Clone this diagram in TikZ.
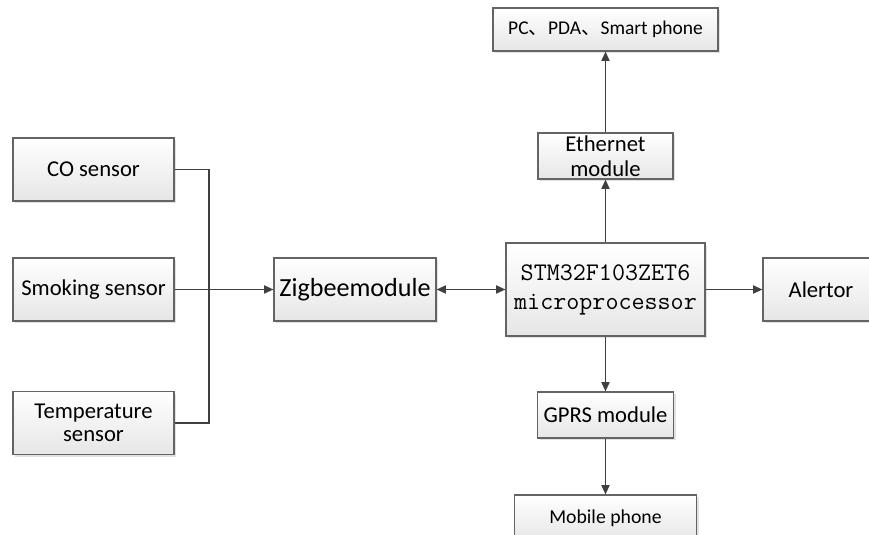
\documentclass[tikz,border=0pt]{standalone}
\usepackage{fontspec}
\setmainfont{Carlito}
\newfontfamily\cjk{Noto Sans CJK SC}
\usetikzlibrary{arrows.meta,shadows}
\definecolor{boxborder}{RGB}{100,100,100}
\definecolor{boxbot}{RGB}{230,230,230}
\definecolor{linecol}{RGB}{64,64,64}
\tikzset{
  blk/.style={draw=boxborder, line width=0.8pt, top color=white, bottom color=boxbot,
    drop shadow={shadow xshift=1.6pt, shadow yshift=-1.6pt, fill=black!22},
    inner sep=0pt, align=center, font=\fontsize{17pt}{19pt}\selectfont},
  conn/.style={draw=linecol, line width=1.3pt},
  arr/.style={conn, -{Triangle[length=7pt,width=6pt]}},
  darr/.style={conn, {Triangle[length=7pt,width=6pt]}-{Triangle[length=7pt,width=6pt]}}
}
\begin{document}
\begin{tikzpicture}[x=0.75pt,y=-0.75pt]
\useasboundingbox (0,0) rectangle (869,535);
\clip (0,0) rectangle (869,535);
\fill[white] (0,0) rectangle (869,535);
% right column
\node[blk, minimum width=168.75pt, minimum height=32.25pt, font=\fontsize{14.6pt}{16pt}\selectfont] (pc) at (605.5,29.5) {PC{\cjk 、}PDA{\cjk 、}Smart phone};
\node[blk, minimum width=101.25pt, minimum height=34.5pt, font=\fontsize{17pt}{18.75pt}\selectfont] (eth) at (605.5,156) {Ethernet\\module};
\node[blk, minimum width=149.25pt, minimum height=69.75pt, font=\ttfamily\fontsize{19pt}{21.75pt}\selectfont] (stm) at (605.5,289.5) {STM32F103ZET6\\microprocessor};
\node[blk, minimum width=102pt, minimum height=34.5pt] (gprs) at (605.5,415) {GPRS module};
\node[blk, minimum width=136.5pt, minimum height=34.5pt, font=\fontsize{14.8pt}{16pt}\selectfont] (mob) at (605.5,518) {Mobile phone};
\node[blk, minimum width=87pt, minimum height=47.25pt] (alert) at (821,289.5) {Alertor};
% middle
\node[blk, minimum width=121.5pt, minimum height=47.25pt, font=\fontsize{19.6pt}{21pt}\selectfont] (zig) at (355,289.5) {Zigbeemodule};
% sensors
\node[blk, minimum width=120.75pt, minimum height=47.25pt] (co) at (93.5,169.5) {CO sensor};
\node[blk, minimum width=120.75pt, minimum height=47.25pt] (smk) at (93.5,289.5) {Smoking sensor};
\node[blk, minimum width=120.75pt, minimum height=47.25pt, font=\fontsize{17pt}{17.5pt}\selectfont] (temp) at (93.5,423) {Temperature\\sensor};
\coordinate (bus) at (209,289.5);
% connectors
\draw[conn] (co.east) -| (bus) |- (temp.east);
\draw[arr] (smk.east) -- (zig.west);
\draw[darr] (zig.east) -- (stm.west);
\draw[arr] (stm.east) -- (alert.west);
\draw[arr] (stm.north) -- (eth.south);
\draw[arr] (eth.north) -- (pc.south);
\draw[arr] (stm.south) -- (gprs.north);
\draw[arr] (gprs.south) -- (mob.north);
\end{tikzpicture}
\end{document}
